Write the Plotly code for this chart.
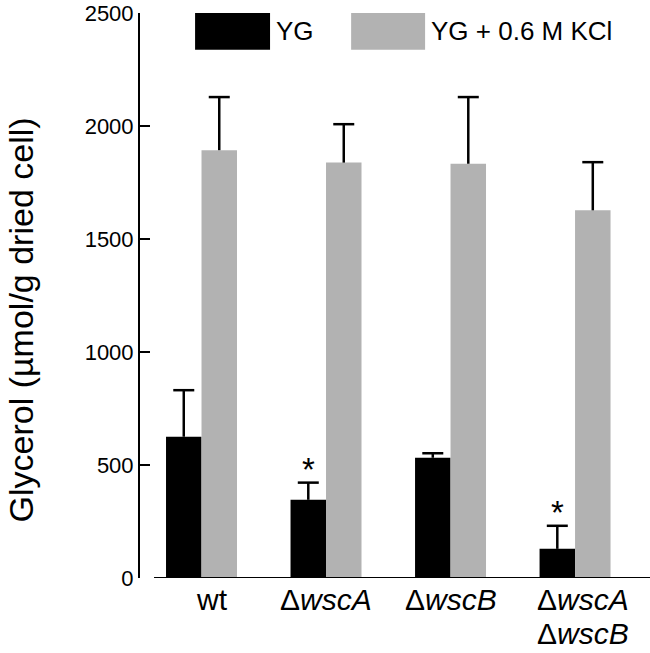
import plotly.graph_objects as go

# ---- data ----
strains = ["wt", "ΔwscA", "ΔwscB", "ΔwscA ΔwscB"]
tick_labels = ["wt", "Δ<i>wscA</i>", "Δ<i>wscB</i>", "Δ<i>wscA</i><br>Δ<i>wscB</i>"]
series_names = ["YG", "YG + 0.6 M KCl"]
yg_values = [625, 346, 532, 129]
yg_errors = [206, 76, 20, 102]
kcl_values = [1893, 1838, 1833, 1627]
kcl_errors = [235, 170, 295, 213]
significant = [False, True, False, True]
y_ticks = [0, 500, 1000, 1500, 2000, 2500]

# ---- styling ----
FONT = "Liberation Sans, Arial, sans-serif"
BLACK = "#000000"
GREY = "#b2b2b2"
BAR_W = 0.285
label_xshift = [10, 0, 0, 8]

xpos = list(range(len(strains)))
series = [
    (series_names[0], yg_values, yg_errors, BLACK, -BAR_W),
    (series_names[1], kcl_values, kcl_errors, GREY, 0.0),
]

fig = go.Figure()
for name, vals, errs, col, off in series:
    fig.add_trace(go.Bar(
        x=xpos, y=vals, name=name, width=BAR_W, offset=off,
        marker=dict(color=col, line=dict(width=0)),
        error_y=dict(type="data", symmetric=False, array=errs,
                     arrayminus=[0] * len(errs), color=BLACK, thickness=2.5, width=0),
        showlegend=False, hoverinfo="y",
    ))
# error-bar caps (top only, as in the reference)
for name, vals, errs, col, off in series:
    fig.add_trace(go.Scatter(
        x=[x + off + BAR_W / 2 for x in xpos],
        y=[v + e for v, e in zip(vals, errs)],
        mode="markers",
        marker=dict(symbol="line-ew", size=15, line=dict(color=BLACK, width=2.5)),
        showlegend=False, hoverinfo="skip",
    ))

annotations = []
# x tick labels (one annotation per line)
for i, lab in enumerate(tick_labels):
    for j, line in enumerate(lab.split("<br>")):
        annotations.append(dict(
            x=xpos[i], y=0, xref="x", yref="y", text=line, showarrow=False,
            xanchor="center", yanchor="top", yshift=-3 - 34 * j, xshift=label_xshift[i],
            font=dict(family=FONT, size=30, color="black"),
        ))
# significance asterisks
for i, sig in enumerate(significant):
    if sig:
        annotations.append(dict(
            x=xpos[i] - BAR_W / 2, y=yg_values[i] + yg_errors[i], xref="x", yref="y",
            text="*", showarrow=False, xanchor="center", yanchor="bottom", yshift=-7,
            font=dict(family=FONT, size=33, color="black"),
        ))
# y-axis title
annotations.append(dict(
    x=-0.234, y=0.457, xref="paper", yref="paper", text="Glycerol (µmol/g dried cell)",
    textangle=-90, showarrow=False, xanchor="center", yanchor="middle",
    font=dict(family=FONT, size=34, color="black"),
))
# legend
legend_boxes = [(0.108, 0.255, BLACK), (0.414, 0.559, GREY)]
for (x0, x1, col), name in zip(legend_boxes, series_names):
    annotations.append(dict(
        x=x1 + 0.008, y=0.968, xref="paper", yref="paper", text=name, showarrow=False,
        xanchor="left", yanchor="middle",
        font=dict(family=FONT, size=26, color="black"),
    ))

shapes = []
for x0, x1, col in legend_boxes:
    shapes.append(dict(type="rect", xref="paper", yref="paper", x0=x0, x1=x1,
                       y0=0.935, y1=1.0, fillcolor=col, line=dict(width=0)))
# x axis baseline (separate from y axis as in reference)
shapes.append(dict(type="line", xref="paper", yref="y", x0=0.0275, x1=1.0, y0=0, y1=0,
                   line=dict(color="black", width=2)))

fig.update_layout(
    width=650, height=653,
    margin=dict(l=140, r=0, t=13, b=75),
    plot_bgcolor="white", paper_bgcolor="white",
    barmode="group",
    showlegend=False,
    xaxis=dict(range=[-0.494, 3.602], showticklabels=False, showline=False,
               showgrid=False, zeroline=False, ticks=""),
    yaxis=dict(range=[0, 2500], tickvals=y_ticks, ticks="inside", ticklen=10,
               tickwidth=2, tickcolor="black", showline=True, linecolor="black",
               linewidth=2, showgrid=False, zeroline=False, automargin=False,
               tickfont=dict(family=FONT, size=22, color="black")),
    annotations=annotations,
    shapes=shapes,
)

fig.write_html("out.html", config={"displayModeBar": False},
               post_script="document.body.style.margin='0';document.body.style.overflow='hidden';")
